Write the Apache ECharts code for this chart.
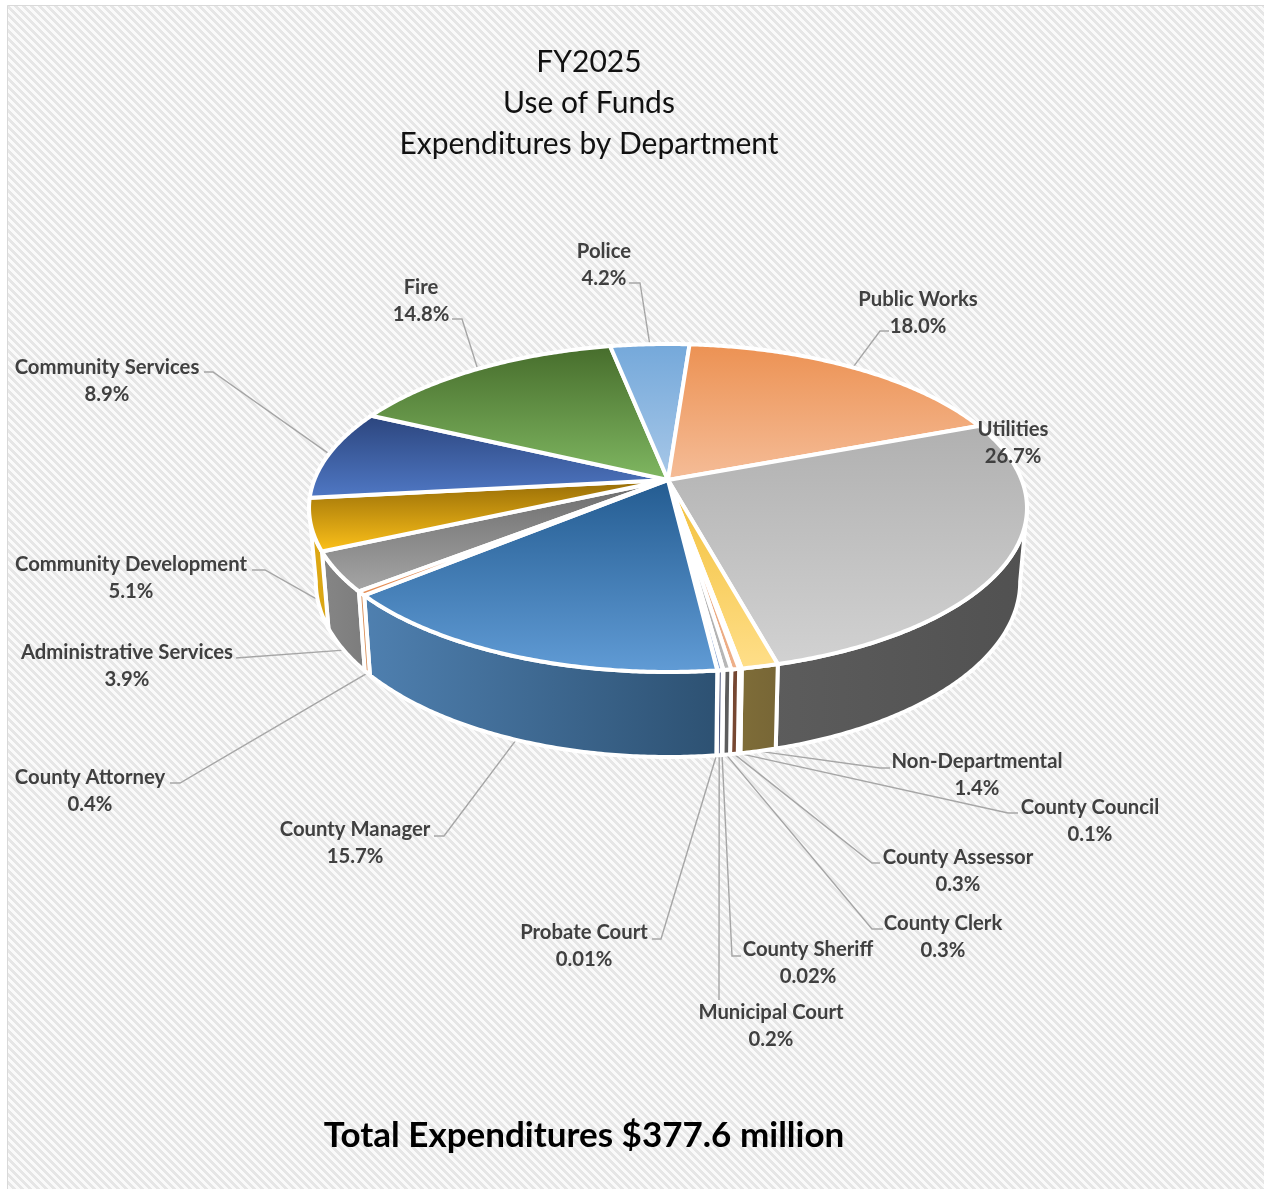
<!DOCTYPE html>
<html>
<head>
<meta charset="utf-8">
<title>FY2025 Use of Funds</title>
<script src="https://cdn.jsdelivr.net/npm/echarts@6/dist/echarts.min.js"></script>
<style>html,body{margin:0;padding:0;background:#fff}#chart{width:1264px;height:1189px}</style>
</head>
<body>
<div id="chart"></div>
<script>
// Departments, clockwise from the first slice
const departments = ['Administrative Services', 'Community Development', 'Community Services', 'Fire', 'Police',
  'Public Works', 'Utilities', 'Non-Departmental', 'County Council', 'County Assessor', 'County Clerk',
  'County Sheriff', 'Municipal Court', 'Probate Court', 'County Manager', 'County Attorney'];
const sharePercent = [3.9, 5.1, 8.9, 14.8, 4.2, 18.0, 26.7, 1.4, 0.1, 0.3, 0.3, 0.02, 0.2, 0.01, 15.7, 0.4];

const titleLines = ['FY2025', 'Use of Funds', 'Expenditures by Department'];
const totalLine = 'Total Expenditures $377.6 million';

// Top-face gradient (far edge, near edge) and side-wall gradient (left, right) per slice
const topColors = [['#6a6a6a', '#a6a6a6'], ['#946a06', '#ffc31a'], ['#2b447c', '#5079c6'], ['#466c2b', '#80b862'],
  ['#74a8da', '#a8c8e8'], ['#ec9152', '#f5bd98'], ['#b0b0b0', '#d2d2d2'], ['#f2bf38', '#ffdf8a'],
  ['#7ea6d0', '#9cbcdc'], ['#e59a68', '#eeb08a'], ['#a0a0a0', '#b8b8b8'], ['#c9a53a', '#e0c060'],
  ['#7c96c8', '#94acd6'], ['#6f9a58', '#8ab074'], ['#235b90', '#619cd6'], ['#c96f35', '#e89058']];
const wallColors = [['#868686', '#7c7c7c'], ['#e0aa14', '#d8a414'], ['#3a5a94', '#3a5a94'], ['#527a36', '#527a36'],
  ['#6690b8', '#6690b8'], ['#b8703c', '#b8703c'], ['#5c5c5c', '#515151'], ['#7f6d38', '#776636'],
  ['#5e7594', '#5e7594'], ['#7d4a32', '#704430'], ['#5f5f5f', '#5a5a5a'], ['#8a7a40', '#8a7a40'],
  ['#555f85', '#505a80'], ['#4f6a3c', '#4f6a3c'], ['#4f80b0', '#2d5172'], ['#d98a50', '#d98a50']];

// Where each caption sits: centre x, centre y, and the elbow points of its leader line
const captionLayout = [
  [127, 666, [[236, 658]]],
  [131, 578, [[252, 570], [265, 570]]],
  [107, 381, [[204, 372], [213, 372]]],
  [421, 301, [[452, 319], [462, 319]]],
  [604, 265, [[629, 283], [640, 283]]],
  [918, 313, [[889, 331], [880, 331]]],
  [1013, 443, null],
  [977, 775, [[890, 768], [880, 768]]],
  [1090, 821, [[1018, 813], [1008, 813]]],
  [958, 871, [[880, 863], [872, 863]]],
  [943, 937, [[883, 929], [872, 929]]],
  [808, 963, [[741, 956], [732, 956]]],
  [771, 1026, [[719, 1000]]],
  [584, 946, [[652, 939], [661, 939]]],
  [355, 843, [[434, 836], [444, 836]]],
  [90, 791, [[170, 783], [180, 783]]]
];

// Perspective pie: a unit circle mapped onto the upper and the lower plane of the disc
const firstSliceAngle = 231.3;
const perspective = 0.1707;
const upperPlane = { cx: 668, cy: 480, rx: 353.7, ry: 159.2 };
const lowerPlane = { cx: 668, cy: 552, rx: 347, ry: 170 };
// Outer walls only face the viewer between the two silhouette angles
const wallFrom = 99.8, wallTo = 260.2;

const total = sharePercent.reduce((a, b) => a + b, 0);
const sliceStart = [];
sharePercent.reduce((acc, v, i) => { sliceStart[i] = acc; return acc + v / total * 360; }, firstSliceAngle);

function project(plane, deg) {
  const a = deg * Math.PI / 180, u = Math.sin(a), v = -Math.cos(a), w = 1 - perspective * v;
  return [plane.cx + plane.rx * u / w, plane.cy + plane.ry * v / w];
}
function arc(plane, from, to) {
  const n = Math.max(2, Math.ceil(Math.abs(to - from) * 2)), pts = [];
  for (let i = 0; i <= n; i++) pts.push(project(plane, from + (to - from) * i / n));
  return pts;
}
const sweep = value => value / total * 360;
const gradient = (pair, vertical) => new echarts.graphic.LinearGradient(0, 0, vertical ? 0 : 1, vertical ? 1 : 0,
  [{ offset: 0, color: pair[0] }, { offset: 1, color: pair[1] }]);

function renderWall(params, api) {
  const i = params.dataIndex;
  const raw = sliceStart[i] % 360, s = Math.max(raw, wallFrom), e = Math.min(raw + sweep(api.value(0)), wallTo);
  if (e <= s) return null;
  const points = arc(upperPlane, s, e).concat(arc(lowerPlane, e, s));
  return { type: 'polygon', shape: { points },
    style: { fill: gradient(wallColors[i], false), stroke: '#fff', lineWidth: 4, lineJoin: 'round' } };
}
function renderTop(params, api) {
  const i = params.dataIndex, s = sliceStart[i], e = s + sweep(api.value(0));
  const points = [[upperPlane.cx, upperPlane.cy]].concat(arc(upperPlane, s, e));
  return { type: 'polygon', shape: { points },
    style: { fill: gradient(topColors[i], true), stroke: '#fff', lineWidth: 4, lineJoin: 'miter' } };
}
const percentText = v => (v < 0.1 ? v.toFixed(2) : v.toFixed(1)) + '%';
function renderLeader(params, api) {
  const i = params.dataIndex, layout = captionLayout[i];
  if (!layout[2]) return null;
  const mid = sliceStart[i] + sweep(api.value(0)) / 2;
  const nearSide = -Math.cos(mid * Math.PI / 180) > 0.1;
  const rim = project(nearSide ? lowerPlane : upperPlane, mid);
  return { type: 'polyline', shape: { points: layout[2].concat([rim]) },
    style: { fill: 'none', stroke: '#a6a6a6', lineWidth: 1.4 } };
}
function renderCaption(params, api) {
  const i = params.dataIndex, layout = captionLayout[i];
  return { type: 'text', x: layout[0], y: layout[1],
    style: { text: departments[i] + '\n' + percentText(api.value(0)), fill: '#404040', align: 'center', verticalAlign: 'middle',
      font: 'bold 20.3px Lato', lineHeight: 26.4 } };
}

// Hatched chart-area fill
const tile = document.createElement('canvas');
tile.width = tile.height = 8;
const ctx = tile.getContext('2d');
for (let y = 0; y < 8; y++) for (let x = 0; x < 8; x++) {
  ctx.fillStyle = ((x - y + 16) % 8) < 4 ? '#e6e6e6' : '#fafafa';
  ctx.fillRect(x, y, 1, 1);
}

const chart = echarts.init(document.getElementById('chart'), null, { renderer: 'canvas' });
const rows = sharePercent.map((v, i) => ({ name: departments[i], value: v }));
const layer = (z, renderItem) => ({ type: 'custom', coordinateSystem: 'none', z, silent: true, data: rows, renderItem });
chart.setOption({
  animation: false,
  backgroundColor: '#ffffff',
  graphic: [{ type: 'rect', z: -10, shape: { x: 7.5, y: 5.5, width: 1270, height: 1190 },
    style: { fill: { image: tile, repeat: 'repeat' }, stroke: '#d9d9d9', lineWidth: 1 }, silent: true }],
  title: [
    { text: titleLines.join('\n'), left: 584, top: 37, textAlign: 'center',
      textStyle: { fontFamily: 'Lato', fontWeight: 'normal', fontSize: 30, lineHeight: 41, color: '#111' } },
    { text: totalLine, left: 579, top: 1113, textAlign: 'center',
      textStyle: { fontFamily: 'Lato', fontWeight: 'bold', fontSize: 35, color: '#000' } }
  ],
  series: [layer(2, renderLeader), layer(3, renderWall), layer(4, renderTop), layer(5, renderCaption)]
});
</script>
</body>
</html>
